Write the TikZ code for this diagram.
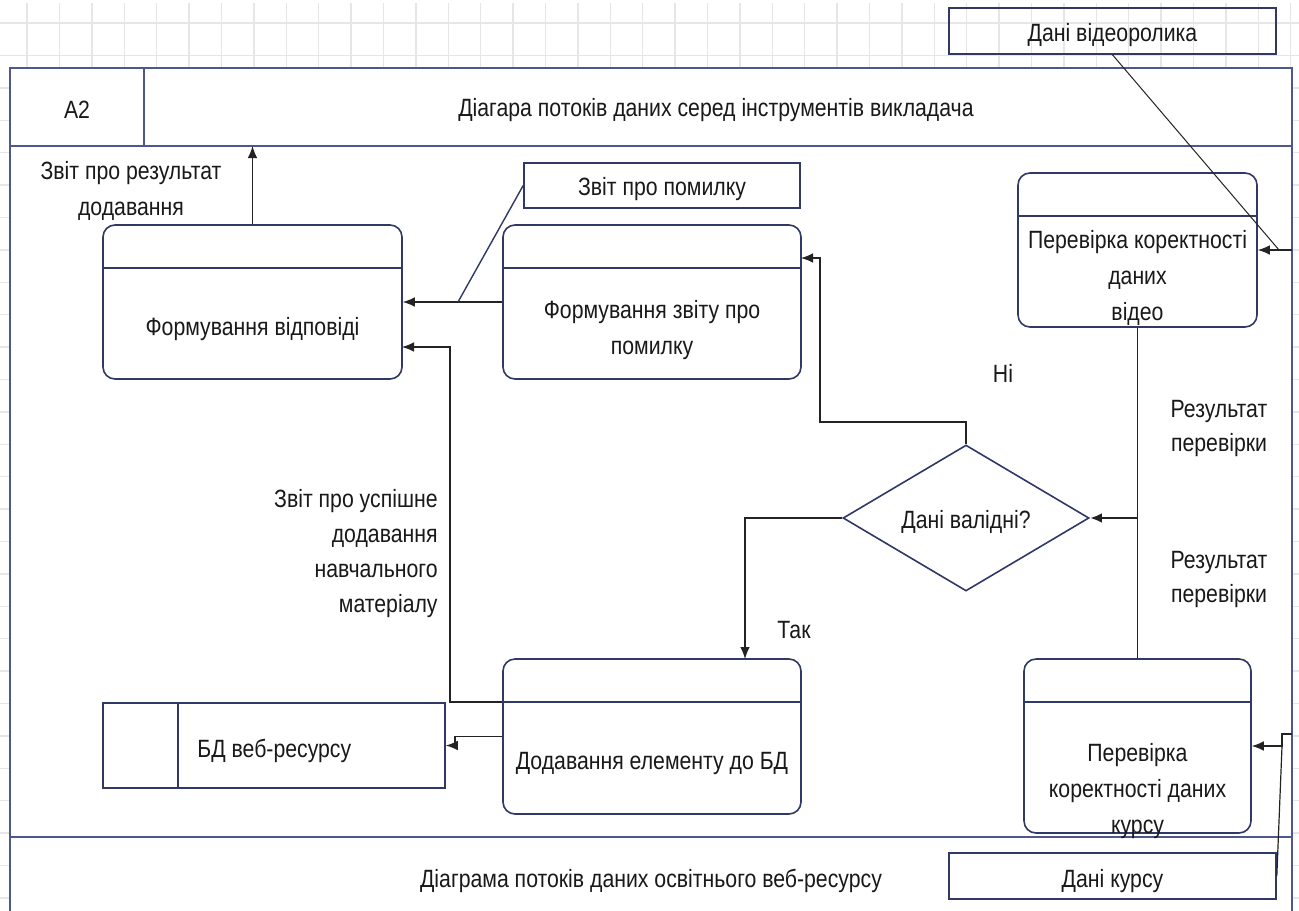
\documentclass[tikz,border=0pt]{standalone}
\usepackage{fontspec}
\setmainfont{Liberation Sans}[FakeStretch=0.85]
\usetikzlibrary{arrows.meta,shapes.geometric}
\definecolor{framec}{RGB}{78,88,140}
\definecolor{boxc}{RGB}{48,56,102}
\definecolor{gridc}{RGB}{230,230,230}
\definecolor{inkc}{RGB}{25,25,25}
\definecolor{wirec}{RGB}{35,35,35}
\tikzset{
  lbl/.style={font=\fontsize{12.5}{18}\selectfont, text=inkc, inner sep=0pt, align=center, yshift=-1pt},
  proc/.style={draw=boxc, line width=0.8pt, rounded corners=6pt, inner sep=0pt},
  store/.style={draw=boxc, line width=0.8pt, inner sep=0pt},
  hline/.style={boxc, line width=0.8pt},
  wire/.style={wirec, line width=0.6pt},
  flow/.style={wire, -{Latex[length=6pt,width=4.8pt]}},
}
\newcommand\headline[1]{\draw[hline] ([yshift=-22pt]#1.north west) -- ([yshift=-22pt]#1.north east);}
\begin{document}
\begin{tikzpicture}[x=0.5pt,y=-0.5pt]
\useasboundingbox (0,0) rectangle (1299,910);

% background grid
\foreach \k in {0,...,39}
  \draw[gridc, line width=0.7pt] ({27+32.4*\k},3) -- ({27+32.4*\k},910);
\foreach \k in {0,...,27}
  \draw[gridc, line width=0.7pt] (0,{23+32.4*\k}) -- (1299,{23+32.4*\k});

% sheet frame with header and footer bands
\fill[white] (10,68) rectangle (1292,914);
\draw[framec, line width=0.8pt] (10,914) -- (10,68) -- (1292,68) -- (1292,914);
\draw[framec, line width=0.8pt] (10,146) -- (1292,146);
\draw[framec, line width=0.8pt] (144,68) -- (144,146);
\draw[framec, line width=0.8pt] (10,837) -- (1292,837);
\coordinate (hdr) at (0,146);
\node[lbl] (code) at (77,108) {A2};
\node[lbl] (title) at (716,108) {Діагара потоків даних серед інструментів викладача};
\node[lbl] (foot) at (651,879) {Діаграма потоків даних освітнього веб-ресурсу};

% processes
\node[proc, minimum width=149.5pt, minimum height=77pt] (resp) at (252.5,302) {};
\headline{resp}
\node[lbl] (respT) at (252.5,327) {Формування відповіді};

\node[proc, minimum width=149pt, minimum height=77pt] (err) at (652,302) {};
\headline{err}
\node[lbl] (errT) at (652,328) {Формування звіту про\\помилку};

\node[proc, minimum width=149pt, minimum height=77.5pt] (add) at (652,736.5) {};
\headline{add}
\node[lbl] (addT) at (652,761) {Додавання елементу до БД};

\node[proc, minimum width=119.5pt, minimum height=77pt] (chkv) at (1137.5,250) {};
\headline{chkv}
\node[lbl] (chkvT) at (1137.5,276) {Перевірка коректності\\даних\\відео};

\node[proc, minimum width=113.5pt, minimum height=87pt] (chkc) at (1137.5,746) {};
\headline{chkc}
\node[lbl] (chkcT) at (1137.5,789) {Перевірка\\коректності даних\\курсу};

% decision
\node[draw=boxc, line width=0.8pt, diamond, minimum width=123pt, minimum height=73pt,
      inner sep=0pt] (dia) at (966,518) {};
\node[lbl] (diaT) at (966,520) {Дані валідні?};

% data items and store
\node[store, minimum width=138pt, minimum height=22.5pt] (errlbl) at (662,185.5) {};
\node[lbl] (errlblT) at (662,187) {Звіт про помилку};
\node[store, minimum width=163.5pt, minimum height=23pt] (vid) at (1112.5,31) {};
\node[lbl] (vidT) at (1112.5,33) {Дані відеоролика};
\node[store, minimum width=163.5pt, minimum height=23pt] (kurs) at (1112.5,876) {};
\node[lbl] (kursT) at (1112.5,879) {Дані курсу};
\node[store, minimum width=171pt, minimum height=42.5pt] (db) at (274,745.5) {};
\draw[hline] (db.north west -| 178,0) -- (db.south west -| 178,0);
\node[lbl, anchor=west] (dbT) at (197,749) {БД веб-ресурсу};

% flow labels
\node[lbl] (l1) at (131,189) {Звіт про результат\\додавання};
\node[lbl, align=right, anchor=east, font=\fontsize{12.5}{17.5}\selectfont] (l2) at (438,552) {Звіт про успішне\\додавання\\навчального\\матеріалу};
\node[lbl] (l3) at (1003,371) {Ні};
\node[lbl, font=\fontsize{12.5}{17}\selectfont] (l4) at (1219,426) {Результат\\перевірки};
\node[lbl, font=\fontsize{12.5}{17}\selectfont] (l5) at (1219,577) {Результат\\перевірки};
\node[lbl] (l6) at (794,628) {Так};

% connectors
\draw[flow] (resp.north) -- (resp.north |- hdr);
\draw[flow] (err.west) -- (resp.east);
\coordinate (e1) at (458,302);
\draw[hline, line width=0.7pt] (errlbl.west) -- (e1);

\coordinate (a1) at (450,702);
\coordinate (a2) at (402,347);
\draw[flow] (add.west |- a1) -- (a1) |- (a2);

\coordinate (b1) at (455,736.5);
\draw[flow] (add.west) -- (b1) |- (db.east);

\coordinate (c1) at (820,422);
\coordinate (c2) at (801,258);
\draw[flow] (dia.north) |- (c1) |- (c2);

\coordinate (d1) at (745,659);
\draw[flow] (dia.west) -| (d1);

\draw[wire] (chkv.south) -- (chkc.north);
\coordinate (f1) at (1137.5,518);
\draw[flow, line width=1.3pt] (f1) -- (dia.east);

\coordinate (v1) at (1279,250);
\coordinate (v0) at (1292,250);
\draw[wire, line width=0.5pt] (vid.south) -- (v1);
\draw[flow] (v0) -- (chkv.east);

\coordinate (k1) at (1282,746);
\coordinate (k2) at (1292,734);
\draw[wire] (kurs.east) -- (k1);
\draw[flow] (k2) -| (k1) -- (chkc.east);
\end{tikzpicture}
\end{document}
